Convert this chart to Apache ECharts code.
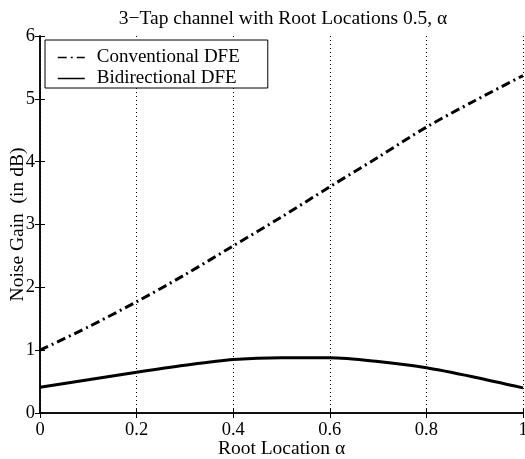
<!DOCTYPE html>
<html>
<head>
<meta charset="utf-8">
<script src="https://cdn.jsdelivr.net/npm/echarts@6/dist/echarts.min.js"></script>
<style>
html,body{margin:0;padding:0;background:#fff;}
#chart{width:525px;height:459px;}
</style>
</head>
<body>
<div id="chart"></div>
<script>
const alpha = [0, 0.1, 0.2, 0.3, 0.4, 0.5, 0.6, 0.7, 0.8, 0.9, 1.0];
const conventional = [1.0, 1.37, 1.77, 2.2, 2.66, 3.12, 3.6, 4.07, 4.55, 4.97, 5.37];
const bidirectional = [0.41, 0.53, 0.65, 0.76, 0.85, 0.88, 0.88, 0.82, 0.72, 0.57, 0.40];
const seriesNames = ['Conventional DFE', 'Bidirectional DFE'];
const titleText = '3\u2212Tap channel with Root Locations 0.5, \u03b1';
const xName = 'Root Location \u03b1';
const yName = 'Noise Gain  (in dB)';

const FONT = '"Liberation Serif", "Times New Roman", serif';
const chart = echarts.init(document.getElementById('chart'));
const pairs = (ys) => alpha.map((a, i) => [a, ys[i]]);
const axisLine = {show: true, lineStyle: {color: '#000', width: 1.5}};
const tickIn = {show: true, inside: true, length: 5, lineStyle: {color: '#000', width: 1}};

chart.setOption({
  animation: false,
  backgroundColor: '#fff',
  textStyle: {fontFamily: FONT, color: '#000'},
  title: {
    text: titleText, left: 278, top: 4, textAlign: 'center',
    textStyle: {fontFamily: FONT, fontSize: 19.5, fontWeight: 'normal', color: '#000'}
  },
  grid: {left: 40, right: 2, top: 36, bottom: 46, containLabel: false, outerBoundsMode: 'none'},
  legend: {
    orient: 'vertical', left: 45, top: 40,
    backgroundColor: '#fff',
    borderColor: '#000', borderWidth: 1, borderRadius: 0,
    padding: [8, 28, 0, 12], itemGap: 2, itemWidth: 27, itemHeight: 14,
    itemStyle: {opacity: 0},
    lineStyle: {width: 1.5},
    textStyle: {fontFamily: FONT, fontSize: 19, color: '#000', padding: [0, 0, 0, 7]},
    data: seriesNames
  },
  xAxis: [{
    type: 'value', min: 0, max: 1, interval: 0.2,
    name: xName, nameLocation: 'middle', nameGap: 26, nameMoveOverlap: false,
    nameTextStyle: {fontFamily: FONT, fontSize: 19.5, color: '#000'},
    axisLine: axisLine, axisTick: tickIn,
    axisLabel: {fontFamily: FONT, fontSize: 18.5, color: '#000', margin: 8,
      formatter: v => (v === 0 || v === 1) ? String(v) : v.toFixed(1)},
    splitLine: {show: true, lineStyle: {color: '#000', type: [1, 3], width: 1}}
  }, {
    type: 'value', min: 0, max: 1, interval: 0.2, position: 'top',
    axisLine: axisLine, axisTick: tickIn, axisLabel: {show: false}, splitLine: {show: false}
  }],
  yAxis: [{
    type: 'value', min: 0, max: 6, interval: 1,
    name: yName, nameLocation: 'middle', nameGap: 12, nameRotate: 90, nameMoveOverlap: false,
    nameTextStyle: {fontFamily: FONT, fontSize: 19.5, color: '#000'},
    axisLine: axisLine, axisTick: tickIn,
    axisLabel: {fontFamily: FONT, fontSize: 18.5, color: '#000', margin: 5},
    splitLine: {show: false}
  }, {
    type: 'value', min: 0, max: 6, interval: 1, position: 'right',
    axisLine: axisLine, axisTick: tickIn, axisLabel: {show: false}, splitLine: {show: false}
  }],
  series: [{
    name: seriesNames[0], type: 'line', data: pairs(conventional),
    smooth: 0.3, symbol: 'none', color: '#000',
    lineStyle: {color: '#000', width: 3, type: [9, 4, 2, 4]}
  }, {
    name: seriesNames[1], type: 'line', data: pairs(bidirectional),
    smooth: 0.3, symbol: 'none', color: '#000',
    lineStyle: {color: '#000', width: 3, type: 'solid'}
  }]
});
</script>
</body>
</html>
